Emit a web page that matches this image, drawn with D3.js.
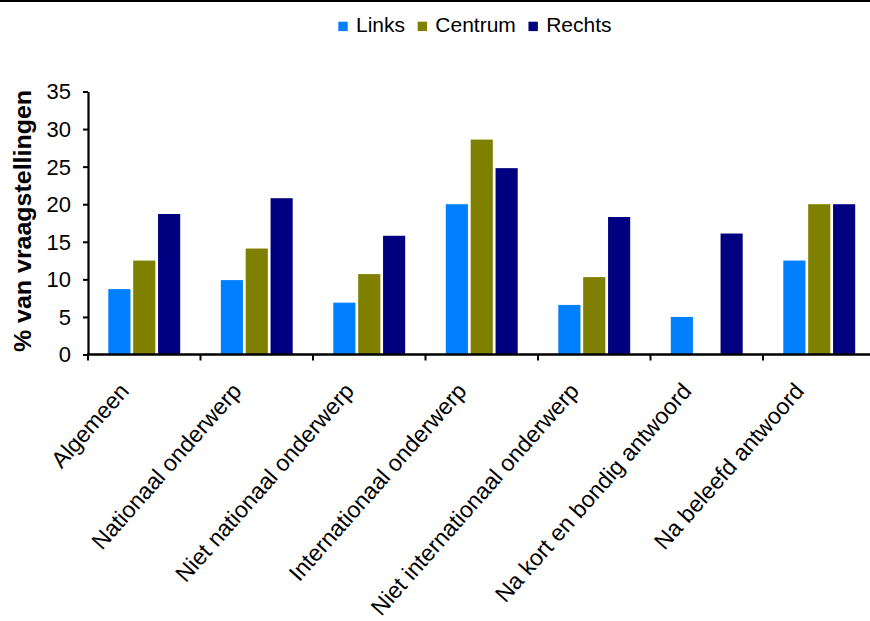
<!DOCTYPE html>
<html>
<head>
<meta charset="utf-8">
<script src="https://cdn.jsdelivr.net/npm/d3@7"></script>
<style>
  html, body { margin: 0; padding: 0; background: #fff; }
  svg { display: block; font-family: Arial, "Liberation Sans", sans-serif; }
</style>
</head>
<body>
<svg id="chart" width="870" height="621"></svg>
<script>
const categories = ["Algemeen", "Nationaal onderwerp", "Niet nationaal onderwerp", "Internationaal onderwerp", "Niet internationaal onderwerp", "Na kort en bondig antwoord", "Na beleefd antwoord"];
const seriesNames = ["Links", "Centrum", "Rechts"];
const links   = [8.7, 9.9, 6.9, 20.0, 6.6, 5.0, 12.5];
const centrum = [12.5, 14.1, 10.7, 28.6, 10.3, 0, 20.0];
const rechts  = [18.7, 20.8, 15.8, 24.8, 18.3, 16.1, 20.0];
const yTicks = [0, 5, 10, 15, 20, 25, 30, 35];
const colors = ["#0080FF", "#808000", "#000080"];
const yLabel = "% van vraagstellingen";

const seriesValues = [links, centrum, rechts];
const svg = d3.select("#chart");

// top border line
svg.append("line").attr("x1", 0).attr("x2", 870).attr("y1", 1).attr("y2", 1)
  .attr("stroke", "#000").attr("stroke-width", 2);

const x0 = d3.scaleBand().domain(categories).range([88, 88 + 7 * 112.5]).padding(0);
const x1 = d3.scaleBand().domain(seriesNames).range([20.3, 92.2]).paddingInner(0.11).paddingOuter(0);
const y = d3.scaleLinear().domain([0, 35]).range([354.5, 91.5]);
const color = d3.scaleOrdinal().domain(seriesNames).range(colors);

// bars
const groups = svg.append("g").selectAll("g").data(categories).join("g")
  .attr("transform", d => `translate(${x0(d)},0)`);
groups.selectAll("rect")
  .data((c, i) => seriesNames.map((s, j) => ({ s, v: seriesValues[j][i] })))
  .join("rect")
  .attr("x", d => x1(d.s))
  .attr("width", x1.bandwidth())
  .attr("y", d => y(d.v))
  .attr("height", d => y(0) - y(d.v))
  .attr("fill", d => color(d.s));

// y axis
const yAxis = svg.append("g").attr("transform", "translate(88,0)")
  .call(d3.axisLeft(y).tickValues(yTicks).tickSize(5).tickPadding(12).tickSizeOuter(0));
yAxis.select(".domain").attr("stroke", "#000").attr("stroke-width", 2.2);
yAxis.selectAll(".tick line").attr("stroke", "#000").attr("stroke-width", 2);
yAxis.selectAll(".tick text").attr("font-size", 22).attr("fill", "#000")
  .attr("font-family", "Arial, 'Liberation Sans', sans-serif").attr("dy", "0.34em");

// x axis
const xTickPos = categories.map(c => x0(c)).concat([x0.range()[1]]);
const xg = svg.append("g");
xg.append("line").attr("x1", 87).attr("x2", 870).attr("y1", y(0)).attr("y2", y(0))
  .attr("stroke", "#000").attr("stroke-width", 2.6);
xg.selectAll("line.tk").data(xTickPos).join("line").attr("class", "tk")
  .attr("x1", d => d).attr("x2", d => d).attr("y1", y(0)).attr("y2", y(0) + 6)
  .attr("stroke", "#000").attr("stroke-width", 2);

// category labels
xg.selectAll("text.cat").data(categories).join("text").attr("class", "cat")
  .attr("transform", d => `translate(${x0(d) + x0.bandwidth() / 2 - 14},392) rotate(-48.5)`)
  .attr("text-anchor", "end")
  .attr("font-size", 23)
  .attr("fill", "#000")
  .text(d => d);

// y label
svg.append("text")
  .attr("transform", "translate(31,221) rotate(-90)")
  .attr("text-anchor", "middle")
  .attr("font-size", 23)
  .attr("font-weight", "bold")
  .attr("fill", "#000")
  .attr("textLength", 262)
  .attr("lengthAdjust", "spacingAndGlyphs")
  .text(yLabel);

// legend
const leg = svg.append("g");
let lx = 338.3;
seriesNames.forEach((s, i) => {
  leg.append("rect").attr("x", lx).attr("y", 21.7).attr("width", 9.4).attr("height", 9.4)
    .attr("fill", color(s));
  const t = leg.append("text").attr("x", lx + 17.7).attr("y", 31.7)
    .attr("font-size", 21).attr("fill", "#000").text(s);
  lx = lx + 17.7 + t.node().getComputedTextLength() + 12.6;
});
</script>
</body>
</html>
